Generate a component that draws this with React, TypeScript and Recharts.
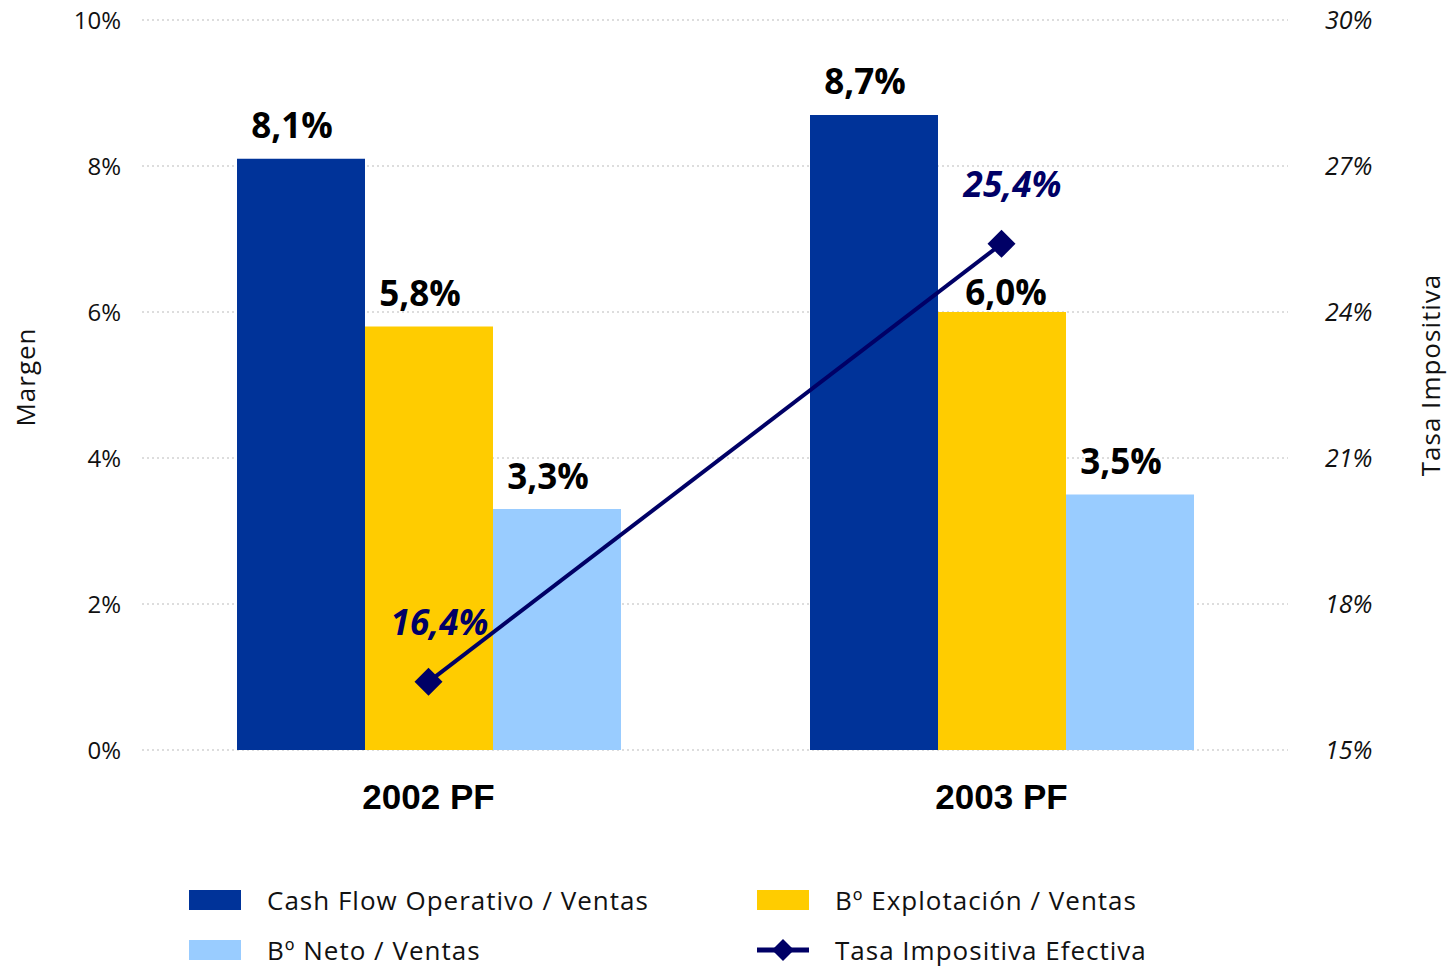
import {
  Bar,
  CartesianGrid,
  ComposedChart,
  LabelList,
  Line,
  XAxis,
  YAxis,
} from "recharts";

const categories = ["2002 PF", "2003 PF"];
const cashFlow = [8.1, 8.7];
const explotacion = [5.8, 6.0];
const neto = [3.3, 3.5];
const tasa = [16.4, 25.4];
const leftTicks = [0, 2, 4, 6, 8, 10];
const rightTicks = [15, 18, 21, 24, 27, 30];

const BLUE = "#003399";
const YELLOW = "#FFCC00";
const LIGHT = "#99CCFF";
const NAVY = "#000066";
const FONT = "'Open Sans', sans-serif";

const data = categories.map((cat, i) => ({
  cat,
  cf: cashFlow[i],
  bex: explotacion[i],
  bn: neto[i],
  tasa: tasa[i],
}));

const fmt = (v: number) => v.toFixed(1).replace(".", ",") + "%";

// the 6,0% label sits lower and a bit right so it clears the line
function makeBarLabel(series: string) {
  return function BarLabel(props: any) {
    const { x, y, width, value, index } = props;
    const moved = series === "bex" && index === 1;
    return (
      <text
        x={x + width / 2 + (moved ? 4 : -9)}
        y={y - (moved ? 21 : 34)}
        textAnchor="middle"
        dominantBaseline="central"
        fontFamily={FONT}
        fontWeight={700}
        fontSize={35}
        fill="#000"
      >
        {fmt(value)}
      </text>
    );
  };
}

function LineLabel(props: any) {
  const { x, y, value } = props;
  return (
    <text
      x={x + 11}
      y={y - 60}
      textAnchor="middle"
      dominantBaseline="central"
      fontFamily={FONT}
      fontWeight={700}
      fontStyle="italic"
      fontSize={35}
      fill={NAVY}
    >
      {fmt(value)}
    </text>
  );
}

function Diamond(props: any) {
  const { cx, cy } = props;
  const r = 14;
  return (
    <polygon
      points={`${cx},${cy - r} ${cx + r},${cy} ${cx},${cy + r} ${cx - r},${cy}`}
      fill={NAVY}
    />
  );
}

function LegendItem({ kind, color, text }: { kind: "rect" | "line"; color: string; text: string }) {
  return (
    <div style={{ display: "flex", alignItems: "center", height: 26 }}>
      <svg width={52} height={22} style={{ marginRight: 26 }}>
        {kind === "rect" ? (
          <rect x={0} y={1} width={52} height={20} fill={color} />
        ) : (
          <g>
            <line x1={0} x2={52} y1={11} y2={11} stroke={color} strokeWidth={5} />
            <polygon points="26,0 37,11 26,22 15,11" fill={color} />
          </g>
        )}
      </svg>
      <span
        style={{
          fontFamily: FONT,
          fontSize: 26,
          lineHeight: 1,
          letterSpacing: 1,
          color: "#111",
          whiteSpace: "nowrap",
        }}
      >
        {text}
      </span>
    </div>
  );
}

export default function App() {
  return (
    <div style={{ position: "fixed", left: 0, top: 0, width: 1448, height: 968, background: "#fff" }}>
      <ComposedChart
        width={1448}
        height={968}
        data={data}
        margin={{ top: 20, right: 0, left: 2, bottom: 138 }}
        barCategoryGap="16.6%"
        barGap={0}
      >
        <CartesianGrid
          yAxisId="left"
          vertical={false}
          stroke="#bbbbbb"
          strokeDasharray="2 3"
        />
        <XAxis
          dataKey="cat"
          axisLine={false}
          tickLine={false}
          tickSize={0}
          tickMargin={34}
          height={80}
          tick={{ fontFamily: "'Liberation Sans', Arial, sans-serif", fontWeight: 700, fontSize: 35, fill: "#000" }}
        />
        <YAxis
          yAxisId="left"
          domain={[0, 10]}
          ticks={leftTicks}
          width={140}
          axisLine={false}
          tickLine={false}
          tickSize={0}
          tickMargin={21}
          tickFormatter={(v) => `${v}%`}
          tick={{ fontFamily: FONT, fontSize: 24, fill: "#111" }}
          label={{
            content: () => (
              <text
                x={25}
                y={377}
                transform="rotate(-90 25 377)"
                textAnchor="middle"
                dominantBaseline="central"
                fontFamily={FONT}
                fontSize={26}
                letterSpacing={1}
                fill="#111"
              >
                Margen
              </text>
            ),
          }}
        />
        <YAxis
          yAxisId="right"
          orientation="right"
          domain={[15, 30]}
          ticks={rightTicks}
          width={160}
          axisLine={false}
          tickLine={false}
          tickSize={0}
          tickMargin={37}
          tickFormatter={(v) => `${v}%`}
          tick={{ fontFamily: FONT, fontSize: 25, fontStyle: "italic", fill: "#111" }}
          label={{
            content: () => (
              <text
                x={1430}
                y={375}
                transform="rotate(-90 1430 375)"
                textAnchor="middle"
                dominantBaseline="central"
                fontFamily={FONT}
                fontSize={26}
                letterSpacing={1}
                fill="#111"
              >
                Tasa Impositiva
              </text>
            ),
          }}
        />
        <Bar yAxisId="left" dataKey="cf" fill={BLUE} barSize={128} isAnimationActive={false}>
          <LabelList dataKey="cf" content={makeBarLabel("cf")} />
        </Bar>
        <Bar yAxisId="left" dataKey="bex" fill={YELLOW} barSize={128} isAnimationActive={false}>
          <LabelList dataKey="bex" content={makeBarLabel("bex")} />
        </Bar>
        <Bar yAxisId="left" dataKey="bn" fill={LIGHT} barSize={128} isAnimationActive={false}>
          <LabelList dataKey="bn" content={makeBarLabel("bn")} />
        </Bar>
        <Line
          yAxisId="right"
          dataKey="tasa"
          stroke={NAVY}
          strokeWidth={4}
          dot={<Diamond />}
          activeDot={false}
          isAnimationActive={false}
        >
          <LabelList dataKey="tasa" content={LineLabel} />
        </Line>
      </ComposedChart>
      <div style={{ position: "absolute", left: 189, top: 887 }}>
        <LegendItem kind="rect" color={BLUE} text="Cash Flow Operativo / Ventas" />
      </div>
      <div style={{ position: "absolute", left: 757, top: 887 }}>
        <LegendItem kind="rect" color={YELLOW} text="Bº Explotación / Ventas" />
      </div>
      <div style={{ position: "absolute", left: 189, top: 937 }}>
        <LegendItem kind="rect" color={LIGHT} text="Bº Neto / Ventas" />
      </div>
      <div style={{ position: "absolute", left: 757, top: 937 }}>
        <LegendItem kind="line" color={NAVY} text="Tasa Impositiva Efectiva" />
      </div>
    </div>
  );
}
